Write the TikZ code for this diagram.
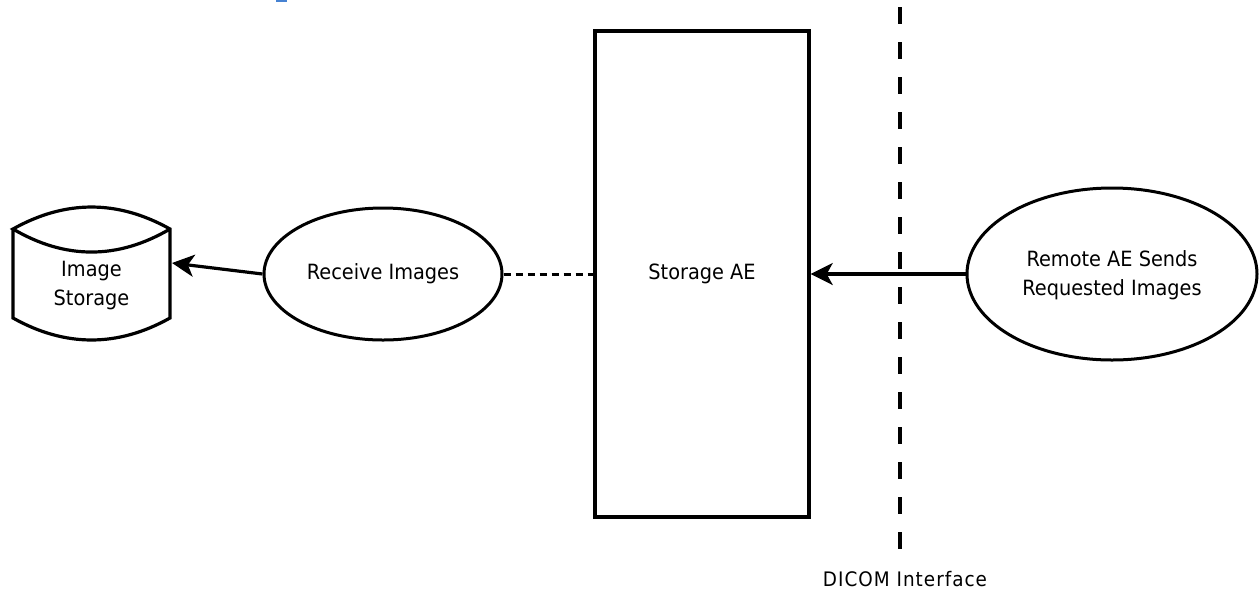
\documentclass[tikz,border=0pt]{standalone}
\usepackage{fontspec}
\setmainfont{DejaVu Sans}[FakeStretch=0.92]
\newfontfamily\dicomfont{DejaVu Sans}[FakeStretch=0.92,LetterSpace=5]
\usetikzlibrary{shapes.geometric,arrows.meta,calc}
\definecolor{headblue}{RGB}{70,130,210}
\tikzset{
  lbl/.style={font=\fontsize{21}{29}\selectfont, align=center, inner sep=0pt},
  oval/.style={ellipse, draw, line width=3pt, inner sep=0pt},
  conn/.style={line width=3.2pt, -{Stealth[length=22pt,width=22pt,inset=6pt]}},
  dotline/.style={line width=3pt, dash pattern=on 7pt off 5pt},
  boundary/.style={line width=3.2pt, dash pattern=on 17pt off 18pt}
}
\begin{document}
\begin{tikzpicture}[x=1pt,y=-1pt]
\useasboundingbox (0,0) rectangle (1259,590);
% clipped heading fragment
\fill[headblue] (276,0) rectangle (287,2);
% image storage
\node[minimum width=157pt, minimum height=133pt, inner sep=0pt] (store) at (91.5,273.5) {};
\draw[line width=3.2pt, line join=miter]
  (13,229) -- (13,318) .. controls (65.3,347.3) and (117.7,347.3) .. (170,318) -- (170,229)
  .. controls (117.7,199.7) and (65.3,199.7) .. (13,229)
  .. controls (65.3,259.7) and (117.7,259.7) .. (170,229);
\node[lbl] (storetext) at (91.5,285.5) {Image\\Storage};
\coordinate (storein) at (172,263);
% receive images
\node[oval, minimum width=238pt, minimum height=132pt] (recv) at (383,274) {};
\node[lbl] (recvtext) at (383,274) {Receive Images};
% storage AE
\node[draw, line width=3.4pt, minimum width=214pt, minimum height=486pt, inner sep=0pt] (ae) at (702,274) {};
\node[lbl] (aetext) at (702,274) {Storage AE};
% remote
\node[oval, minimum width=290pt, minimum height=172pt] (remote) at (1112,274) {};
\node[lbl] (remotetext) at (1112,275) {Remote AE Sends\\Requested Images};
% DICOM boundary
\coordinate (btop) at (900,7);
\coordinate (bbot) at (900,549);
\draw[boundary] (btop) -- (bbot);
\node[inner sep=0pt, font=\dicomfont\fontsize{20}{24}\selectfont] (dicom) at (905,579) {DICOM Interface};
% connectors
\draw[conn] (recv.west) -- (storein);
\draw[dotline] (recv.east) -- (ae.west);
\draw[conn] (remote.west) -- (ae.east);
\end{tikzpicture}
\end{document}
